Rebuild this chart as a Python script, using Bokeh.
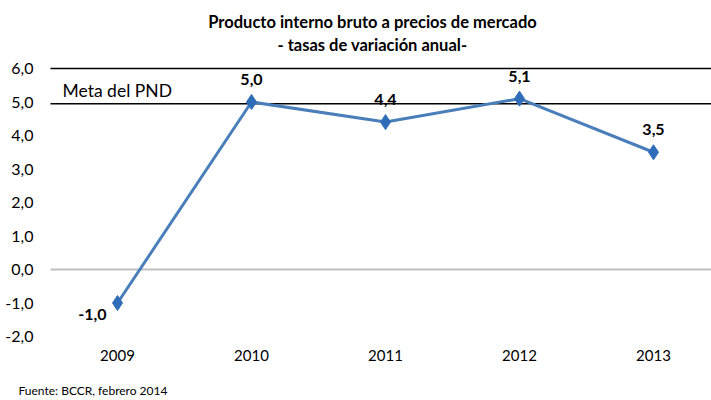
from bokeh.plotting import figure
from bokeh.models import ColumnDataSource, Label, FixedTicker, Range1d
from bokeh.core.properties import value
from bokeh.embed import file_html
from bokeh.resources import INLINE

# ---- data ----
years = [2009, 2010, 2011, 2012, 2013]
growth = [-1.0, 5.0, 4.4, 5.1, 3.5]
meta_pnd = 4.95
y_ticks = [-2, -1, 0, 1, 2, 3, 4, 5, 6]
title_1 = "Producto interno bruto a precios de mercado"
title_2 = "- tasas de variación anual-"
source_note = "Fuente: BCCR, febrero 2014"
meta_label = "Meta del PND"


def fmt(v):
    return f"{v:.1f}".replace(".", ",")


FONT = "Lato"
LINE_BLUE = "#4A7EBB"
MARK_BLUE = "#2F6DB8"

W, H = 711, 400
LEFT_SPACE = 50      # room left of the plot area for value labels
BOTTOM_SPACE = 64    # room below the plot area for year labels and source note
TOP_SPACE = 68       # room above the 6,0 line for the titles
cat_px = 134         # pixels per category step
unit_px = 33.5       # pixels per 1,0 on the value axis

x_left = years[0] - 0.5
x_end = x_left + (W - LEFT_SPACE) / cat_px

p = figure(width=W, height=H, output_backend="svg", toolbar_location=None,
           title=None,
           x_range=Range1d(x_left - LEFT_SPACE / cat_px, x_end),
           y_range=Range1d(y_ticks[0] - BOTTOM_SPACE / unit_px,
                           y_ticks[-1] + TOP_SPACE / unit_px),
           min_border_left=0, min_border_right=0,
           min_border_top=0, min_border_bottom=0)
p.outline_line_color = None
p.xgrid.visible = False
p.ygrid.visible = False
p.background_fill_color = "white"
p.border_fill_color = "white"

# axes (drawn at the plot-area edges)
p.yaxis.fixed_location = x_left
p.yaxis.ticker = FixedTicker(ticks=y_ticks)
p.yaxis.major_label_overrides = {t: fmt(t) for t in y_ticks}
p.yaxis.axis_line_color = None
p.yaxis.major_tick_line_color = None
p.yaxis.minor_tick_line_color = None
p.yaxis.major_tick_out = 0
p.yaxis.major_label_standoff = 17
p.yaxis.major_label_text_font = FONT
p.yaxis.major_label_text_font_size = "16px"
p.yaxis.major_label_text_color = "#000000"

p.xaxis.fixed_location = y_ticks[0]
p.xaxis.ticker = FixedTicker(ticks=years)
p.xaxis.major_label_overrides = {y: str(y) for y in years}
p.xaxis.axis_line_color = None
p.xaxis.major_tick_line_color = None
p.xaxis.minor_tick_line_color = None
p.xaxis.major_tick_out = 0
p.xaxis.major_label_standoff = 13
p.xaxis.major_label_text_font = FONT
p.xaxis.major_label_text_font_size = "15px"
p.xaxis.major_label_text_color = "#000000"

# reference lines across the plot area
p.segment(x0=[x_left], x1=[x_end], y0=[0], y1=[0], line_color="#BFBFBF", line_width=2)
p.segment(x0=[x_left], x1=[x_end], y0=[y_ticks[-1]], y1=[y_ticks[-1]],
          line_color="#000000", line_width=1.5)
p.segment(x0=[x_left], x1=[x_end], y0=[meta_pnd], y1=[meta_pnd],
          line_color="#000000", line_width=1.5)
p.add_layout(Label(x=x_left, y=meta_pnd, x_offset=12, y_offset=13, text=meta_label,
                   text_font=FONT, text_font_size="17.5px", text_baseline="middle",
                   text_color="#000000"))

# series
src = ColumnDataSource(dict(x=years, y=growth))
p.line("x", "y", source=src, line_color=LINE_BLUE, line_width=3)
p.scatter("x", "y", source=src, marker="diamond", size=15,
          fill_color=MARK_BLUE, line_color=MARK_BLUE)

pos = [i for i, v in enumerate(growth) if v >= 0]
neg = [i for i, v in enumerate(growth) if v < 0]
src_pos = ColumnDataSource(dict(x=[years[i] for i in pos], y=[growth[i] for i in pos],
                                lab=[fmt(growth[i]) for i in pos]))
src_neg = ColumnDataSource(dict(x=[years[i] for i in neg], y=[growth[i] for i in neg],
                                lab=[fmt(growth[i]) for i in neg]))
p.text("x", "y", text="lab", source=src_pos, y_offset=-17, text_align="center",
       text_baseline="bottom", text_font=value(FONT), text_font_style="bold",
       text_font_size="16px", text_color="#000000")
p.text("x", "y", text="lab", source=src_neg, x_offset=-11, y_offset=11, text_align="right",
       text_baseline="middle", text_font=value(FONT), text_font_style="bold",
       text_font_size="16px", text_color="#000000")

# titles and source note (screen units from the bottom-left corner)
p.add_layout(Label(x=372, y=H - 21, x_units="screen", y_units="screen",
                   text=title_1, text_align="center", text_baseline="middle",
                   text_font=FONT, text_font_size="16.5px", text_font_style="bold",
                   text_color="#000000"))
p.add_layout(Label(x=372, y=H - 44, x_units="screen", y_units="screen",
                   text=title_2, text_align="center", text_baseline="middle",
                   text_font=FONT, text_font_size="16.5px", text_font_style="bold",
                   text_color="#000000"))
p.add_layout(Label(x=18, y=10, x_units="screen", y_units="screen",
                   text=source_note, text_align="left", text_baseline="middle",
                   text_font=FONT, text_font_size="12px", text_color="#000000"))

open("out.html", "w").write(file_html(p, INLINE))
